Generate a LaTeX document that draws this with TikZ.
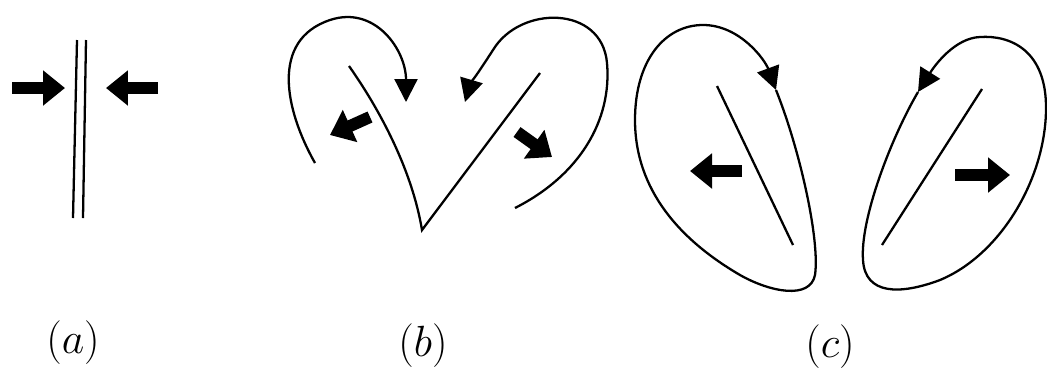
\documentclass[tikz,border=0pt]{standalone}
\usetikzlibrary{arrows.meta}
\begin{document}
\begin{tikzpicture}[x=0.02cm, y=-0.02cm, line width=1.3pt,
  fatarrow/.style={line width=0.24cm, -{Triangle[length=0.44cm,width=0.68cm]}},
  curvetip/.style={-{Triangle[length=0.46cm,width=0.46cm]}},
  caption/.style={font=\fontsize{24.88}{30}\selectfont}]
  \useasboundingbox (0,0) rectangle (1047,373);
  % (a)
  \draw (77,40) -- (73,218);
  \draw (86,40) -- (83,218);
  \coordinate (al) at (12,88);
  \coordinate (ar) at (158,88);
  \draw[fatarrow] (al) -- (65,88);
  \draw[fatarrow] (ar) -- (106,88);
  % (b)
  \coordinate (bl) at (315,163);
  \coordinate (br) at (515,208);
  \coordinate (bv) at (422,230);
  \draw[curvetip] (bl) .. controls (285,110) and (270,40) .. (330,20)
    .. controls (375,5) and (406,50) .. (406,102);
  \draw[curvetip] (br) .. controls (580,175) and (612,120) .. (607,63)
    .. controls (602,5) and (520,5) .. (493,50)
    .. controls (480,70) and (470,85) .. (465,102);
  \draw (349,66) .. controls (380,110) and (412,170) .. (bv) -- (540,73);
  \draw[fatarrow] (370,117) -- (330,135);
  \draw[fatarrow] (517,132) -- (552,157);
  % (c)
  \coordinate (cl) at (776,90);
  \coordinate (cr) at (918,92);
  \draw[curvetip] (cl) .. controls (800,150) and (820,240) .. (815,275)
    .. controls (810,300) and (770,292) .. (740,275)
    .. controls (680,240) and (635,190) .. (635,120)
    .. controls (635,60) and (665,25) .. (703,25)
    .. controls (740,25) and (765,60) .. (cl);
  \draw (717,86) -- (793,245);
  \draw[fatarrow] (742,171) -- (690,171);
  \draw[curvetip] (cr) .. controls (890,140) and (860,220) .. (863,260)
    .. controls (865,295) and (900,295) .. (940,280)
    .. controls (1000,255) and (1045,180) .. (1046,110)
    .. controls (1047,50) and (1010,35) .. (980,37)
    .. controls (955,38) and (935,65) .. (cr);
  \draw (982,89) -- (882,245);
  \draw[fatarrow] (955,175) -- (1010,175);
  % captions
  \node[caption] (la) at (73,343) {$(a)$};
  \node[caption] (lb) at (423,346) {$(b)$};
  \node[caption] (lc) at (830,347) {$(c)$};
\end{tikzpicture}
\end{document}
